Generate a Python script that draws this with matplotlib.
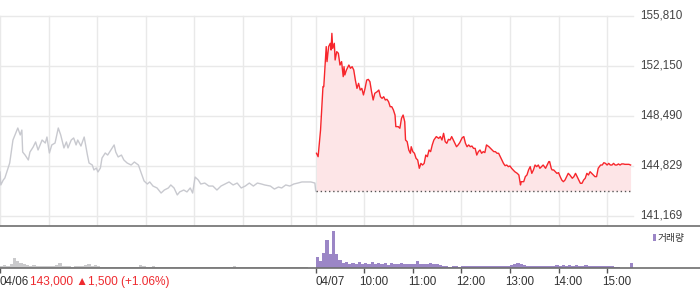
import matplotlib
matplotlib.use('Agg')
import matplotlib.pyplot as plt
from matplotlib.lines import Line2D
from matplotlib.patches import Rectangle
from matplotlib.transforms import offset_copy

plt.rcParams['font.family'] = ['Liberation Sans', 'DejaVu Sans', 'Noto Sans CJK KR']

# minutes from 09:00 on 04/06 (day 2 starts at 390)
gray_min = [0, 1, 4, 6, 10, 12, 16, 20, 22, 25,
            27, 28, 31, 35, 37, 41, 44, 47, 49, 52,
            56, 58, 61, 64, 68, 72, 75, 79, 82, 84,
            88, 91, 94, 96, 100, 104, 108, 110, 114, 116,
            119, 121, 124, 126, 130, 133, 137, 141, 143, 146,
            150, 153, 157, 162, 166, 171, 174, 178, 182, 185,
            189, 194, 199, 203, 208, 211, 215, 219, 222, 227,
            231, 235, 238, 241, 245, 248, 253, 258, 263, 268,
            273, 278, 283, 288, 293, 298, 303, 308, 313, 318,
            323, 327, 334, 339, 344, 348, 353, 358, 363, 368,
            373, 378, 384, 389, 390]
gray_price = [144390, 143440, 143800, 143950, 144680, 145050, 146730, 147320, 147610, 147100,
              147460, 145850, 145630, 145270, 145850, 146220, 146590, 146000, 146290, 146730,
              146510, 146950, 145780, 146370, 146510, 147610, 147100, 146150, 146590, 146150,
              146730, 146880, 146370, 146730, 146290, 146950, 145630, 145050, 144900, 144540,
              144680, 144390, 144680, 145410, 145780, 145630, 146000, 146370, 145850, 145490,
              145630, 145270, 145050, 144900, 145120, 144900, 144390, 143730, 143510, 143660,
              143360, 143220, 142850, 143070, 143220, 143440, 143220, 142710, 142930, 143070,
              142930, 143220, 142850, 144020, 143800, 143510, 143580, 143360, 143360, 143070,
              143360, 143510, 143660, 143440, 143580, 143220, 143360, 143580, 143360, 143580,
              143510, 143440, 143360, 143140, 143290, 143220, 143440, 143360, 143510, 143580,
              143660, 143660, 143660, 143580, 143000]

red_min = [391, 393, 396, 398, 399, 400, 403, 404, 406, 408,
           409, 410, 411, 413, 414, 416, 418, 420, 422, 424,
           425, 426, 428, 431, 433, 435, 437, 439, 441, 443,
           445, 447, 449, 451, 453, 455, 457, 459, 461, 463,
           466, 468, 470, 472, 474, 476, 478, 480, 482, 484,
           486, 488, 489, 492, 494, 496, 498, 500, 501, 503,
           505, 507, 508, 510, 512, 514, 516, 518, 520, 522,
           524, 526, 528, 530, 532, 534, 536, 539, 542, 544,
           546, 548, 550, 552, 554, 556, 558, 560, 562, 564,
           566, 568, 571, 573, 575, 577, 579, 581, 583, 585,
           587, 589, 591, 593, 595, 597, 599, 601, 604, 606,
           608, 610, 612, 614, 616, 618, 620, 622, 624, 626,
           628, 630, 632, 634, 636, 639, 641, 643, 644, 647,
           649, 651, 653, 655, 657, 659, 661, 663, 665, 667,
           669, 671, 674, 676, 678, 679, 681, 682, 684, 686,
           688, 690, 692, 694, 696, 698, 700, 702, 704, 707,
           709, 711, 713, 715, 717, 719, 721, 723, 725, 727,
           729, 731, 733, 735, 737, 739, 742, 744, 746, 748,
           750, 752, 754, 756, 758, 760, 762, 764, 766, 768,
           770, 772, 774, 777, 779]
red_price = [145760, 145510, 147460, 149660, 150640, 150640, 153570, 152470, 153570, 153810,
             153320, 154540, 153440, 153810, 152590, 153200, 153080, 152220, 152470, 151370,
             152100, 151490, 151860, 152220, 151980, 152100, 151860, 151120, 150510, 150880,
             150390, 150510, 150030, 150510, 151120, 151170, 151000, 150270, 149660, 150150,
             150270, 150390, 149900, 149780, 149900, 149660, 149710, 149540, 149170, 149170,
             148930, 148560, 147710, 147710, 147590, 148320, 148560, 148070, 146730, 146610,
             146000, 145760, 146240, 145880, 145760, 145390, 145270, 144660, 145020, 144900,
             145020, 145630, 145510, 146000, 145880, 146370, 146730, 146980, 146850, 146980,
             146730, 147220, 146610, 146490, 146780, 146730, 146980, 146730, 146490, 146240,
             146370, 146540, 146900, 146980, 146490, 146240, 146370, 146240, 146290, 146120,
             146120, 145630, 145880, 146000, 145760, 145880, 145810, 146370, 146240, 146120,
             146000, 145880, 145880, 145760, 145760, 145510, 145270, 145020, 144850, 144900,
             144780, 144830, 144660, 144540, 144410, 144290, 144170, 143440, 143680, 143680,
             144050, 144170, 144540, 144780, 144290, 144540, 144900, 144780, 144900, 144660,
             144780, 144900, 144660, 144900, 145150, 145150, 144660, 144540, 144540, 144410,
             144290, 144340, 144050, 143800, 143680, 143800, 144050, 144290, 144170, 143930,
             144050, 144290, 144050, 143800, 143560, 143560, 143800, 143930, 144290, 144170,
             144410, 144290, 144170, 144050, 144050, 144660, 144900, 144900, 145070, 145020,
             144900, 145020, 144900, 144900, 145020, 144900, 144900, 144980, 144900, 144980,
             144980, 144950, 144950, 144950, 144900]

prev_close = 143000

# volume, 4-minute bins
vol1_min = list(range(0, 390, 4))
vol1 = [2, 3, 2, 4, 10, 7, 5, 4, 3, 2,
        3, 2, 2, 2, 2, 2, 2, 3, 5, 2,
        2, 2, 1, 2, 2, 2, 3, 4, 2, 3,
        2, 1, 1, 1, 1, 1, 1, 1, 1, 1,
        1, 1, 1, 3, 2, 1, 1, 2, 1, 1,
        1.5, 1, 1, 1.5, 1, 1.5, 1, 1, 1, 1.5,
        1, 1, 1, 1, 1, 1, 1, 1, 1, 1,
        1, 1, 2, 1, 1, 1, 1.5, 1, 1.5, 1,
        1, 1, 1.5, 1, 1, 1.5, 1, 1, 1, 1,
        1, 1, 1, 1, 1, 0.5, 0.5, 0.5]
vol2_min = list(range(390, 780, 4))
vol2 = [11, 7, 15, 28, 14, 37, 14, 8, 5, 6,
        4, 5, 4, 6, 4, 5, 4, 6, 4, 5,
        4, 5, 3, 5, 4, 4, 5, 4, 4, 4,
        4, 7, 4, 4, 4, 5, 4, 4, 3, 2,
        2, 1.5, 2, 2, 1.5, 2, 2, 2, 2, 2,
        2, 2, 2, 2, 2, 2, 2, 2, 2, 2,
        3, 4, 5, 4, 3, 2, 2, 2, 2, 2,
        2, 2, 2, 2, 3, 2, 3, 2, 3, 2,
        3, 2, 2, 3, 2, 2, 2, 2, 2, 2,
        2, 2, 1, 1, 0, 0, 0, 5]

price_ticks = [141169, 144829, 148490, 152150, 155810]
grid_min = [0, 60, 120, 180, 240, 300, 360, 390, 450, 510, 570, 630, 690, 750]
tick_min = [0, 390, 450, 510, 570, 630, 690, 750]
hour_labels = ['10:00', '11:00', '12:00', '13:00', '14:00', '15:00']

W, H = 700, 289
fig = plt.figure(figsize=(W / 100, H / 100), dpi=100)
ax = fig.add_axes([0, (H - 225.5) / H, 633 / W, 209.5 / H])
axv = fig.add_axes([0, (H - 268.3) / H, 633 / W, 42.3 / H])

grid_c = '#e9e9e9'
for m in grid_min:
    ax.axvline(m, color=grid_c, lw=1, zorder=0, clip_on=False)
for p in price_ticks:
    ax.axhline(p, color=grid_c, lw=1, zorder=0, clip_on=False)
    ax.text(1 + 7 / 633, p, f'{p:,}', transform=ax.get_yaxis_transform(),
            ha='left', va='center', fontsize=8.4, color='#444444')

ax.plot(gray_min, gray_price, color='#c8c9cf', lw=1, zorder=3)
ax.fill_between(red_min, red_price, prev_close, color='#fde5e7', lw=0, zorder=1)
ax.plot(red_min, red_price, color='#f7262c', lw=1, zorder=4)
ax.hlines(prev_close, 390, 779, colors='#555555', linestyles=(0, (1, 2)), lw=1, zorder=5)

ax.set_xlim(0, 782)
ax.set_ylim(140472, 155810)
ax.set_xticks([])
ax.set_yticks([])
for s in ax.spines.values():
    s.set_visible(False)

axv.bar(vol1_min, vol1, width=4, align='edge', color='#cacacc', lw=0)
axv.bar(vol2_min, vol2, width=4, align='edge', color='#9b86c6', lw=0)
axv.set_xlim(0, 782)
axv.set_ylim(0, 42.3)
axv.set_yticks([])
axv.set_xticks(tick_min)
axv.set_xticklabels([])
axv.tick_params(axis='x', length=3.6, width=1, color='#555555', direction='out')
for s in axv.spines.values():
    s.set_visible(False)

# separator lines across the whole width
fig.add_artist(Line2D([0, 1], [(H - 225.5) / H] * 2, transform=fig.transFigure,
                      color='#7a7a7a', lw=1.3))
fig.add_artist(Line2D([0, 1], [(H - 268.3) / H] * 2, transform=fig.transFigure,
                      color='#6e6e6e', lw=1.2))

# bottom labels
date_tr = offset_copy(axv.get_xaxis_transform(), fig, x=0, y=-14, units='dots')
axv.text(0, 0, '04/06', transform=date_tr, ha='left', va='center', fontsize=8.4, color='#333333')
axv.text(390, 0, '04/07', transform=date_tr, ha='left', va='center', fontsize=8.4, color='#333333')
red_tr = offset_copy(axv.get_xaxis_transform(), fig, x=30, y=-14, units='dots')
axv.text(0, 0, '143,000 ▲1,500 (+1.06%)', transform=red_tr, ha='left', va='center',
         fontsize=8.6, color='#ee2a2f')
hr_tr = offset_copy(axv.get_xaxis_transform(), fig, x=-5, y=-14, units='dots')
for m, lab in zip(tick_min[2:], hour_labels):
    axv.text(m, 0, lab, transform=hr_tr, ha='left', va='center', fontsize=8.4, color='#333333')

# volume legend
fig.add_artist(Rectangle((652.7 / W, (H - 241) / H), 3 / W, 7 / H, transform=fig.transFigure,
                         color='#9b86c6', lw=0))
fig.text(658 / W, (H - 238) / H, '거래량', ha='left', va='center', fontsize=7,
         color='#333333', family=['Noto Sans CJK KR', 'DejaVu Sans'])

fig.savefig('out.png', dpi=100)
